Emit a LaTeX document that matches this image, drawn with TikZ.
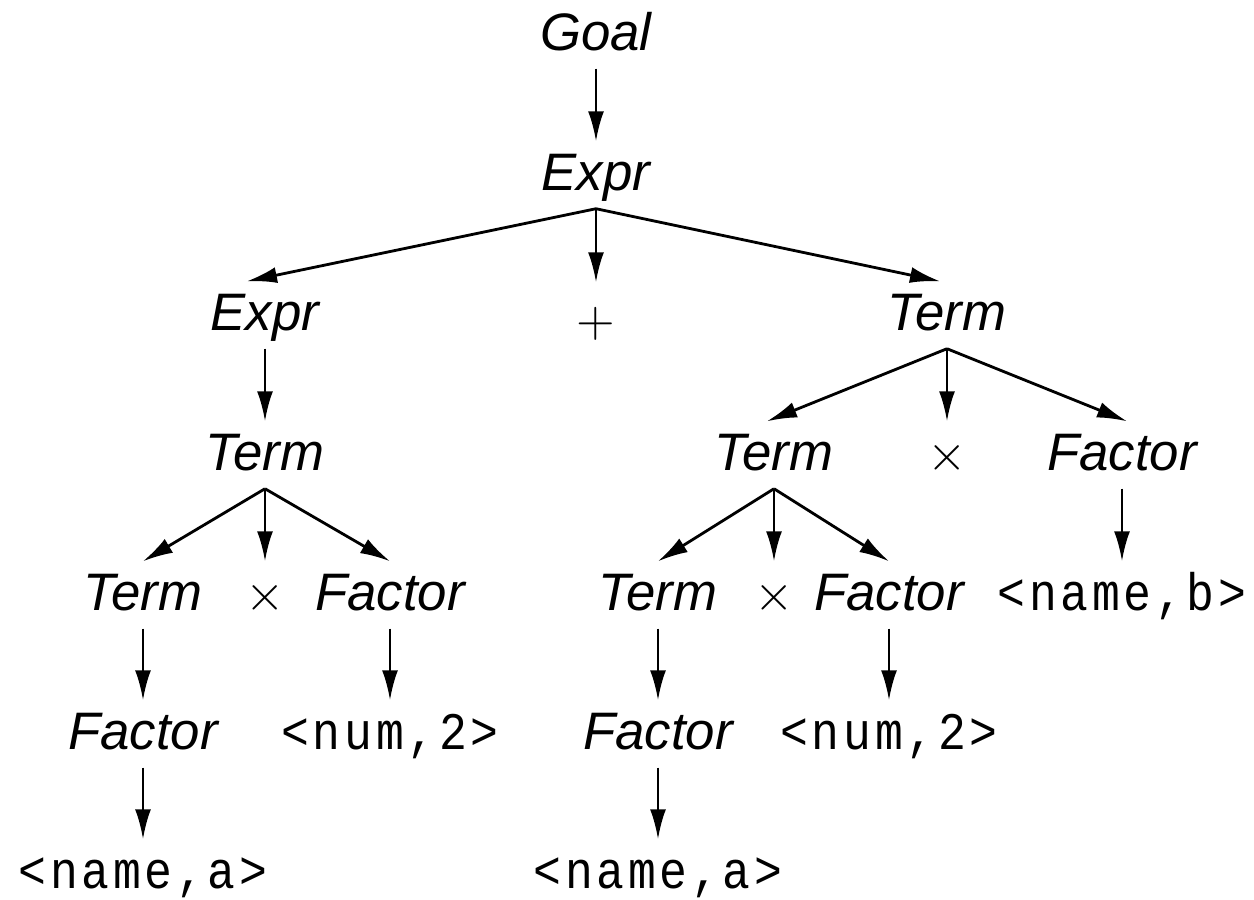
\documentclass[tikz,border=0pt]{standalone}
\usepackage[no-math]{fontspec}
\setmainfont{Liberation Sans}
\newfontfamily\tokfont[FakeStretch=0.88,LetterSpace=7]{Liberation Mono}
\usetikzlibrary{arrows.meta}

\begin{document}
\begin{tikzpicture}[x=0.01cm,y=-0.01cm,
        sym/.style={anchor=base,inner xsep=2pt,inner ysep=0.1cm,text height=0.38cm,text depth=0.08cm,
                    font=\fontsize{15}{18}\selectfont\itshape},
        tok/.style={sym,font=\fontsize{15}{18}\selectfont\tokfont},
        op/.style={sym,font=\fontsize{15}{18}\selectfont},
        derive/.style={-{Latex[length=3mm,width=1.6mm]},line width=0.8pt}]
                        \useasboundingbox (0,0) rectangle (1254,899);
                        % nonterminals and terminals, row by row
                        \node[sym] (goal)  at ( 596, 50) {Goal};
                        \node[sym] (expr)  at ( 596,190) {Expr};
                        \node[sym] (exprL) at ( 265,330) {Expr};
                        \node[op,text height=0.43cm,font=\fontsize{14}{16}\selectfont] (plus) at ( 596,336) {$+$};
                        \node[sym] (termR) at ( 947,330) {Term};
                        \node[sym] (termL) at ( 265,470) {Term};
                        \node[sym] (termM) at ( 774,470) {Term};
                        \node[op]  (timesR) at ( 947,470) {$\times$};
                        \node[sym] (factR) at (1122,470) {Factor};
                        \node[sym] (termLL) at ( 143,610) {Term};
                        \node[op]  (timesL) at ( 265,610) {$\times$};
                        \node[sym] (factL) at ( 390,610) {Factor};
                        \node[sym] (termMM) at ( 658,610) {Term};
                        \node[op]  (timesM) at ( 774,610) {$\times$};
                        \node[sym] (factM) at ( 889,610) {Factor};
                        \node[tok] (nameb) at (1122,610) {<name,b>};
                        \node[sym] (factLL) at ( 143,749) {Factor};
                        \node[tok] (numL)  at ( 390,749) {<num,2>};
                        \node[sym] (factMM) at ( 658,749) {Factor};
                        \node[tok] (numM)  at ( 889,749) {<num,2>};
                        \node[tok] (nameaL) at ( 143,888) {<name,a>};
                        \node[tok] (nameaM) at ( 658,888) {<name,a>};
                        % derivation arrows
                        \draw[derive] (goal.south)  -- (expr.north);
                        \draw[derive] (expr.south)  -- ([xshift=-0.18cm]exprL.north);
                        \draw[derive] (expr.south)  -- (plus.north);
                        \draw[derive] (expr.south)  -- ([xshift=-0.07cm]termR.north);
                        \draw[derive] (exprL.south) -- (termL.north);
                        \draw[derive] (termL.south) -- (termLL.north);
                        \draw[derive] (termL.south) -- (timesL.north);
                        \draw[derive] (termL.south) -- (factL.north);
                        \draw[derive] (termLL.south) -- (factLL.north);
                        \draw[derive] (factLL.south) -- (nameaL.north);
                        \draw[derive] (factL.south) -- (numL.north);
                        \draw[derive] (termR.south) -- ([xshift=-0.07cm]termM.north);
                        \draw[derive] (termR.south) -- (timesR.north);
                        \draw[derive] (termR.south) -- ([xshift=0.05cm]factR.north);
                        \draw[derive] (factR.south) -- (nameb.north);
                        \draw[derive] (termM.south) -- (termMM.north);
                        \draw[derive] (termM.south) -- (timesM.north);
                        \draw[derive] (termM.south) -- (factM.north);
                        \draw[derive] (termMM.south) -- (factMM.north);
                        \draw[derive] (factMM.south) -- (nameaM.north);
                        \draw[derive] (factM.south) -- (numM.north);
                \end{tikzpicture}
\end{document}
